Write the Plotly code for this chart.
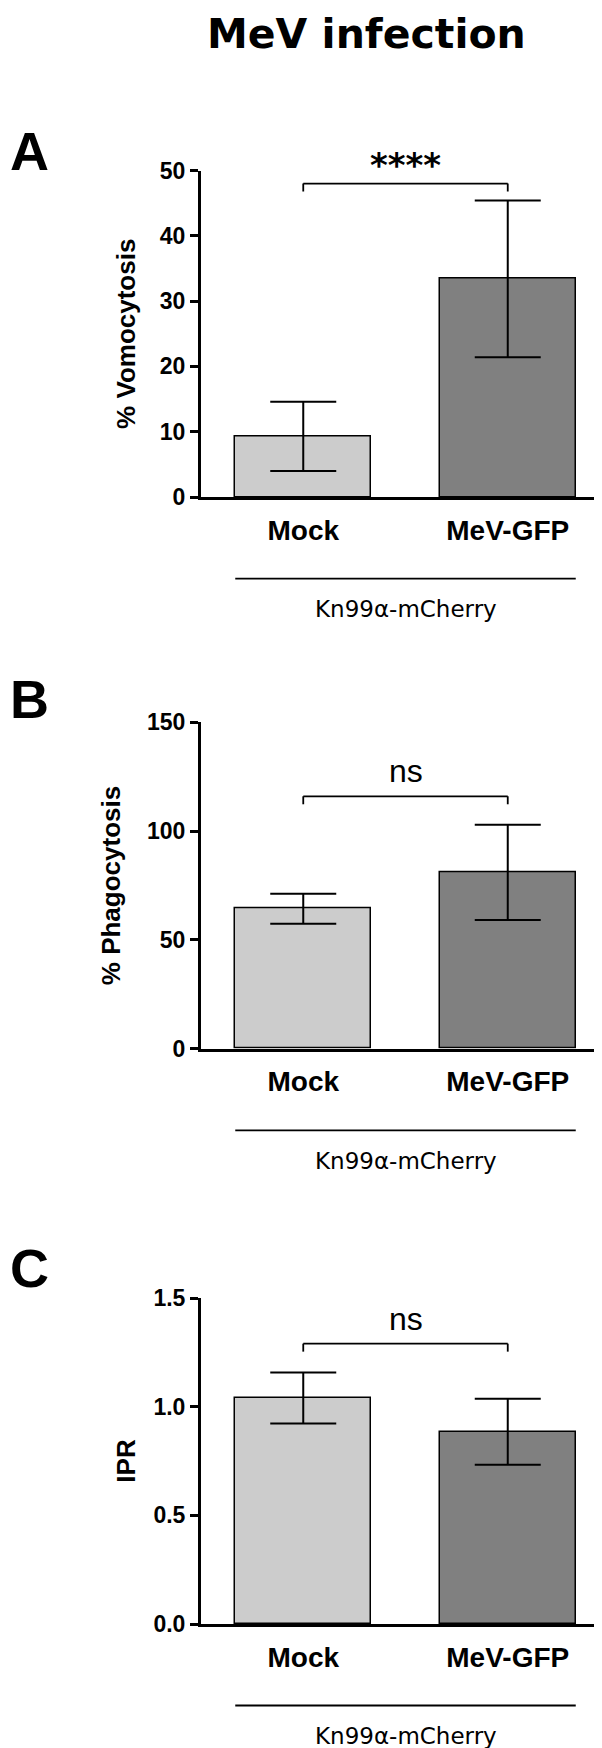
import plotly.graph_objects as go

# figure size in px (margins are zero, so paper coords = px / size)
W, H = 602, 1748

# data
categories = ["Mock", "MeV-GFP"]
bar_colors = ["#cccccc", "#808080"]

vomocytosis = [9.3, 33.4]
vomocytosis_sd = [5.3, 12.0]

phagocytosis = [64.3, 81.0]
phagocytosis_sd = [6.9, 21.9]

ipr = [1.04, 0.885]
ipr_sd = [0.117, 0.152]

panel_letters = ["A", "B", "C"]
y_titles = ["% Vomocytosis", "% Phagocytosis", "IPR"]
y_ticks = [[0, 10, 20, 30, 40, 50], [0, 50, 100, 150], [0.0, 0.5, 1.0, 1.5]]
y_tick_text = [["0", "10", "20", "30", "40", "50"],
               ["0", "50", "100", "150"],
               ["0.0", "0.5", "1.0", "1.5"]]
significance = ["****", "ns", "ns"]
bracket_levels = [48, 116, 1.29]
strain_label = "Kn99α-mCherry"

means = [vomocytosis, phagocytosis, ipr]
sds = [vomocytosis_sd, phagocytosis_sd, ipr_sd]

# layout in px: (top, bottom) of each plot area, letter centres, y title standoff
plot_px = [(162.5, 489), (714.3, 1040.7), (1290, 1616)]
letter_y = [142.5, 691, 1260]
title_standoff = [17, 19, 11]
x_left = 193
bar_w = 0.665

BOLD = dict(family="Liberation Sans", color="black", weight="bold")


def py(px):
    return 1 - px / H


fig = go.Figure()
shapes = []
annotations = []

for i in range(3):
    sfx = "" if i == 0 else str(i + 1)
    xa, ya = "x" + sfx, "y" + sfx
    top, bot = plot_px[i]
    ymax = y_ticks[i][-1]

    fig.add_trace(go.Bar(
        x=categories, y=means[i], width=bar_w,
        marker=dict(color=bar_colors, line=dict(color="black", width=1.5)),
        error_y=dict(type="data", array=sds[i], color="black", thickness=2, width=33),
        xaxis=xa, yaxis=ya, hoverinfo="skip",
    ))

    fig.layout["xaxis" + sfx] = dict(
        domain=[x_left / W, 1], anchor=ya, type="category",
        range=[-0.5, 1.5], showline=True, linecolor="black", linewidth=3,
        ticks="", showgrid=False, zeroline=False, fixedrange=True,
        tickfont=dict(size=28, **BOLD), ticklabelstandoff=6,
    )
    fig.layout["yaxis" + sfx] = dict(
        domain=[py(bot), py(top)], anchor=xa, range=[0, ymax],
        showline=True, linecolor="black", linewidth=3,
        ticks="outside", ticklen=8, tickwidth=3, tickcolor="black",
        tickvals=y_ticks[i], ticktext=y_tick_text[i],
        tickfont=dict(size=23, **BOLD), showgrid=False, zeroline=False,
        title=dict(text=y_titles[i], font=dict(size=26, **BOLD),
                   standoff=title_standoff[i]),
        automargin=False, fixedrange=True,
    )

    # significance bracket between bar centres
    lvl = bracket_levels[i]
    drop = 8 * ymax / (bot - top)
    for x0, y0, x1, y1 in [(0, lvl - drop, 0, lvl), (0, lvl, 1, lvl), (1, lvl, 1, lvl - drop)]:
        shapes.append(dict(type="line", xref=xa, yref=ya, x0=x0, y0=y0, x1=x1, y1=y1,
                           line=dict(color="black", width=1.8)))
    if significance[i] == "****":
        annotations.append(dict(x=0.5, y=lvl, xref=xa, yref=ya, text=significance[i],
                                showarrow=False, yanchor="middle", yshift=19,
                                font=dict(family="DejaVu Sans", size=34, color="black", weight="bold")))
    else:
        annotations.append(dict(x=0.5, y=lvl, xref=xa, yref=ya, text=significance[i],
                                showarrow=False, yanchor="middle", yshift=25,
                                font=dict(family="Liberation Sans", size=32, color="black")))

    # strain line + label under the categories
    shapes.append(dict(type="line", xref=xa, yref=ya + " domain",
                       x0=-bar_w / 2, x1=1 + bar_w / 2, y0=-0.25, y1=-0.25,
                       line=dict(color="black", width=1.8)))
    annotations.append(dict(x=0.5, y=-0.343, xref=xa, yref=ya + " domain", text=strain_label,
                            showarrow=False, yanchor="middle",
                            font=dict(family="DejaVu Sans", size=23, color="black")))

    # panel letter
    annotations.append(dict(x=0, y=py(letter_y[i]), xref="paper", yref="paper",
                            text=panel_letters[i], showarrow=False,
                            xanchor="left", yanchor="middle",
                            font=dict(size=54, **BOLD)))

# figure title
annotations.append(dict(x=358.5 / W, y=py(26), xref="paper", yref="paper",
                        text="MeV infection", showarrow=False,
                        xanchor="center", yanchor="middle",
                        font=dict(family="DejaVu Sans", size=41, color="black", weight="bold")))

fig.update_layout(
    width=W, height=H,
    margin=dict(l=0, r=0, t=0, b=0),
    paper_bgcolor="white", plot_bgcolor="white",
    showlegend=False, bargap=0,
    shapes=shapes, annotations=annotations,
)

fig.write_html("out.html")
